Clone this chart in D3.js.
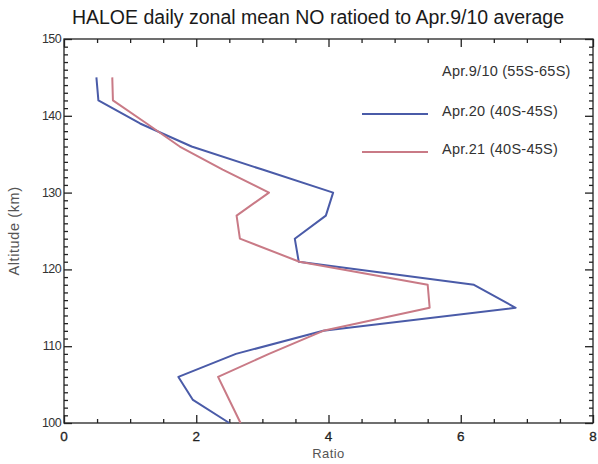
<!DOCTYPE html>
<html>
<head>
<meta charset="utf-8">
<script src="https://cdn.jsdelivr.net/npm/d3@7"></script>
<style>
  html, body { margin: 0; padding: 0; background: #fff; }
  svg { display: block; font-family: "Liberation Sans", Arial, Helvetica, sans-serif; }
</style>
</head>
<body>
<svg id="chart" width="598" height="464"></svg>
<script>
// HALOE daily zonal mean NO, ratioed to the Apr.9/10 average (55S-65S)
const altitudes = [145, 142, 139, 136, 133, 130, 127, 124, 121, 118, 115, 112, 109, 106, 103, 100];
const apr20 = [0.49, 0.52, 1.15, 1.93, 3.0, 4.07, 3.96, 3.49, 3.55, 6.2, 6.83, 3.92, 2.6, 1.73, 1.95, 2.5];
const apr21 = [0.73, 0.74, 1.25, 1.75, 2.4, 3.1, 2.61, 2.66, 3.56, 5.5, 5.53, 3.92, 3.1, 2.33, 2.5, 2.67];

const xTicks = [0, 2, 4, 6, 8];
const yTicks = [100, 110, 120, 130, 140, 150];

const titleText = "HALOE daily zonal mean NO ratioed to Apr.9/10 average";
const legendItems = [
  { label: "Apr.9/10 (55S-65S)", color: null },
  { label: "Apr.20 (40S-45S)", color: "#4a5ba8" },
  { label: "Apr.21 (40S-45S)", color: "#c97a86" }
];

const svg = d3.select("#chart");
const W = 598, H = 464;
const margin = { top: 39, right: 5, bottom: 41, left: 64 };
const iw = W - margin.left - margin.right;
const ih = H - margin.top - margin.bottom;

const x = d3.scaleLinear().domain([0, 8]).range([margin.left, margin.left + iw]);
const y = d3.scaleLinear().domain([100, 150]).range([margin.top + ih, margin.top]);

const axisColor = "#222";

// Frame
svg.append("rect")
  .attr("x", x(0)).attr("y", y(150))
  .attr("width", x(8) - x(0)).attr("height", y(100) - y(150))
  .attr("fill", "none").attr("stroke", axisColor).attr("stroke-width", 1.3);

// Inward ticks on all four sides: majors plus minors
const xMinor = d3.range(0, 8.001, 0.5).filter(v => !xTicks.includes(v));
const yMinor = d3.range(100, 150.001, 1).filter(v => !yTicks.includes(v));

function styleAxis(g) {
  g.select(".domain").remove();
  g.selectAll("line").attr("stroke", axisColor).attr("stroke-width", 1.3);
}

// bottom
svg.append("g").attr("transform", `translate(0,${y(100)})`)
  .call(d3.axisTop(x).tickValues(xTicks).tickSize(8).tickFormat(""))
  .call(styleAxis);
svg.append("g").attr("transform", `translate(0,${y(100)})`)
  .call(d3.axisTop(x).tickValues(xMinor).tickSize(4).tickFormat(""))
  .call(styleAxis);
// top
svg.append("g").attr("transform", `translate(0,${y(150)})`)
  .call(d3.axisBottom(x).tickValues(xTicks).tickSize(8).tickFormat(""))
  .call(styleAxis);
svg.append("g").attr("transform", `translate(0,${y(150)})`)
  .call(d3.axisBottom(x).tickValues(xMinor).tickSize(4).tickFormat(""))
  .call(styleAxis);
// left
svg.append("g").attr("transform", `translate(${x(0)},0)`)
  .call(d3.axisRight(y).tickValues(yTicks).tickSize(8).tickFormat(""))
  .call(styleAxis);
svg.append("g").attr("transform", `translate(${x(0)},0)`)
  .call(d3.axisRight(y).tickValues(yMinor).tickSize(4).tickFormat(""))
  .call(styleAxis);
// right
svg.append("g").attr("transform", `translate(${x(8)},0)`)
  .call(d3.axisLeft(y).tickValues(yTicks).tickSize(8).tickFormat(""))
  .call(styleAxis);
svg.append("g").attr("transform", `translate(${x(8)},0)`)
  .call(d3.axisLeft(y).tickValues(yMinor).tickSize(4).tickFormat(""))
  .call(styleAxis);

// Tick labels
svg.append("g").selectAll("text").data(xTicks).join("text")
  .attr("x", d => x(d)).attr("y", y(100) + 18)
  .attr("text-anchor", "middle").attr("font-size", 13.5).attr("fill", "#222")
  .attr("stroke", "#222").attr("stroke-width", 0.3)
  .text(d => d);
svg.append("g").selectAll("text").data(yTicks).join("text")
  .attr("x", x(0) - 3).attr("y", d => y(d) + 4)
  .attr("text-anchor", "end").attr("font-size", 12.5).attr("fill", "#333")
  .attr("letter-spacing", -0.6)
  .text(d => d);

// Axis titles
svg.append("text")
  .attr("x", (x(0) + x(8)) / 2).attr("y", H - 6)
  .attr("text-anchor", "middle").attr("font-size", 13).attr("fill", "#555")
  .attr("letter-spacing", 0.4)
  .text("Ratio");
svg.append("text")
  .attr("transform", `translate(19,${(y(100) + y(150)) / 2}) rotate(-90)`)
  .attr("text-anchor", "middle").attr("font-size", 14.5).attr("fill", "#555")
  .attr("letter-spacing", 0.6)
  .text("Altitude (km)");

// Title
svg.append("text")
  .attr("x", 318).attr("y", 24)
  .attr("text-anchor", "middle").attr("font-size", 19.5).attr("fill", "#1a1a1a")
  .text(titleText);

// Profiles
const line = d3.line().x(d => x(d[0])).y(d => y(d[1]));
[[apr20, legendItems[1].color], [apr21, legendItems[2].color]].forEach(([vals, color]) => {
  svg.append("path")
    .datum(vals.map((v, i) => [v, altitudes[i]]))
    .attr("d", line)
    .attr("fill", "none").attr("stroke", color)
    .attr("stroke-width", 2).attr("stroke-linejoin", "round");
});

// Legend
const legendY = [71, 111, 149];
legendItems.forEach((item, i) => {
  if (item.color) {
    svg.append("line")
      .attr("x1", 362).attr("x2", 428)
      .attr("y1", legendY[i] + 3).attr("y2", legendY[i] + 3)
      .attr("stroke", item.color).attr("stroke-width", 2.2);
  }
  svg.append("text")
    .attr("x", 442).attr("y", legendY[i] + 5)
    .attr("font-size", 14.5).attr("fill", "#333")
    .attr("letter-spacing", 0.25)
    .text(item.label);
});
</script>
</body>
</html>
